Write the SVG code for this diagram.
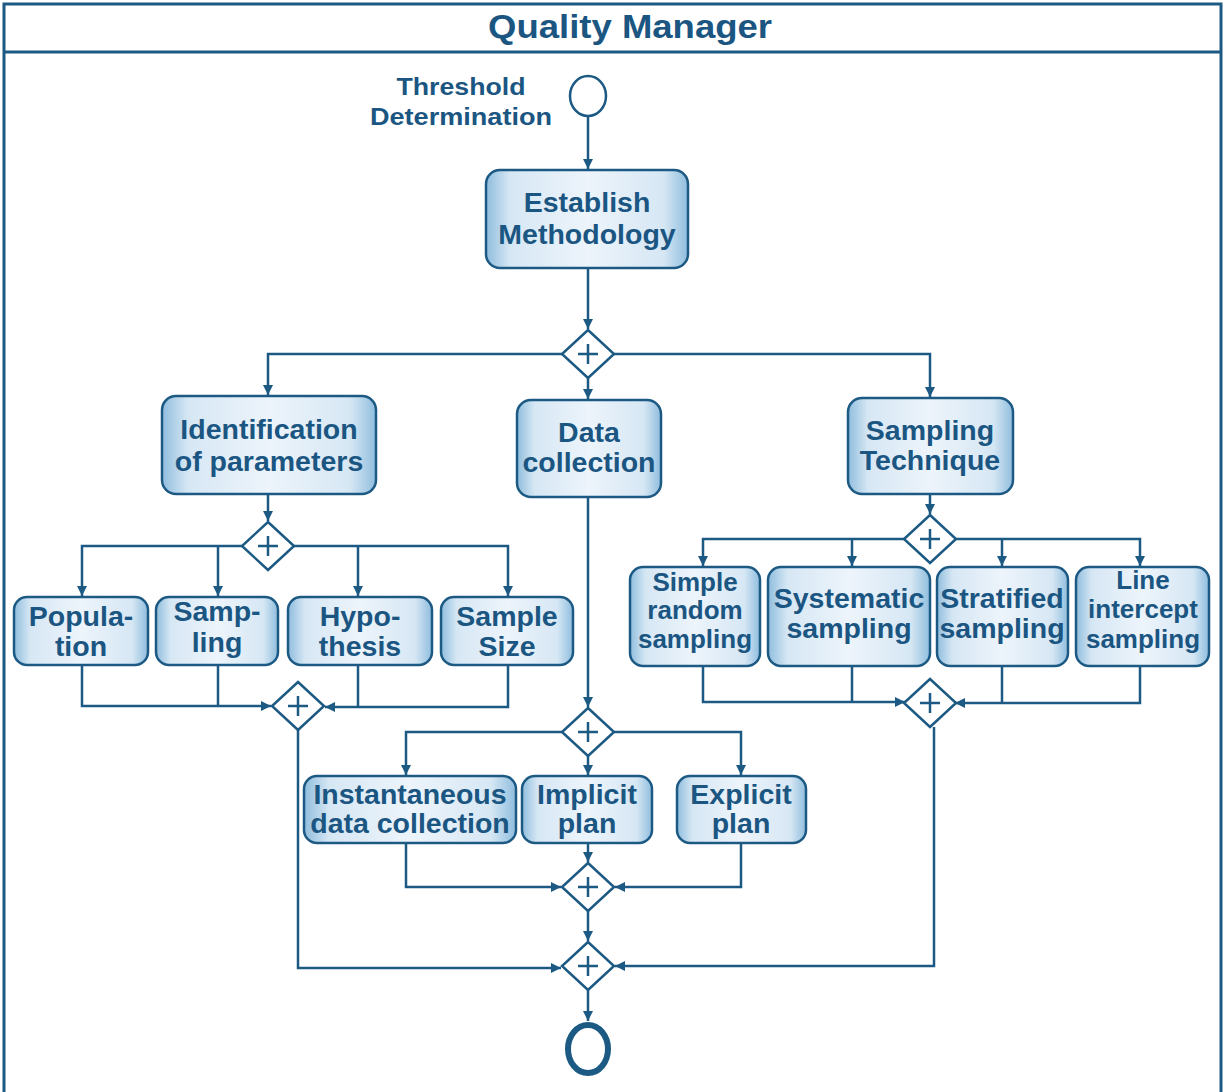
<svg xmlns="http://www.w3.org/2000/svg" width="1225" height="1092" viewBox="0 0 1225 1092">
<defs>
<linearGradient id="g" x1="0" y1="0" x2="1" y2="0">
<stop offset="0" stop-color="#8fbddd"/>
<stop offset="0.12" stop-color="#d6e7f4"/>
<stop offset="0.5" stop-color="#edf4fb"/>
<stop offset="0.88" stop-color="#d6e7f4"/>
<stop offset="1" stop-color="#8fbddd"/>
</linearGradient>
<marker id="a" viewBox="0 0 10 10" refX="10" refY="5" markerWidth="10" markerHeight="10" markerUnits="userSpaceOnUse" orient="auto">
<path d="M0,0 L10,5 L0,10 z" fill="#1c5a84"/>
</marker>
</defs>
<style>
.box{fill:url(#g);stroke:#1c5a84;stroke-width:2.5}
.t{font-family:"Liberation Sans",Arial,sans-serif;font-weight:bold;font-size:28.5px;fill:#1b5682;text-anchor:middle}
.s{font-size:26px}
.c{fill:none;stroke:#1c5a84;stroke-width:2.5}
.gw{fill:#fff;stroke:#1c5a84;stroke-width:2.5}
.p{stroke:#1c5a84;stroke-width:2.5}
</style>
<rect x="0" y="0" width="1225" height="1092" fill="#fff"/>
<g id="frame">
<rect x="4" y="4" width="1217" height="1092" fill="none" stroke="#1c5a84" stroke-width="3"/>
<line x1="4" y1="52" x2="1221" y2="52" stroke="#1c5a84" stroke-width="3"/>
<text x="630" y="38" class="t" style="font-size:33px" textLength="284" lengthAdjust="spacingAndGlyphs">Quality Manager</text>
</g>
<g id="connectors" class="c">
<line x1="588" y1="116" x2="588" y2="169" marker-end="url(#a)"/>
<line x1="588" y1="268" x2="588" y2="329" marker-end="url(#a)"/>
<path d="M562,354 H268 V395" marker-end="url(#a)"/>
<line x1="588" y1="378" x2="588" y2="399" marker-end="url(#a)"/>
<path d="M614,354 H930 V397" marker-end="url(#a)"/>
<line x1="268" y1="494" x2="268" y2="521" marker-end="url(#a)"/>
<path d="M242,546 H82 V596" marker-end="url(#a)"/>
<line x1="218" y1="546" x2="218" y2="596" marker-end="url(#a)"/>
<path d="M294,546 H508 V596" marker-end="url(#a)"/>
<line x1="358" y1="546" x2="358" y2="596" marker-end="url(#a)"/>
<path d="M82,665 V706 H271" marker-end="url(#a)"/>
<line x1="218" y1="665" x2="218" y2="706"/>
<path d="M508,665 V707 H325" marker-end="url(#a)"/>
<line x1="358" y1="665" x2="358" y2="707"/>
<path d="M298,730 V968 H561" marker-end="url(#a)"/>
<line x1="588" y1="497" x2="588" y2="707" marker-end="url(#a)"/>
<path d="M562,732 H406 V775" marker-end="url(#a)"/>
<line x1="588" y1="756" x2="588" y2="775" marker-end="url(#a)"/>
<path d="M614,732 H741 V775" marker-end="url(#a)"/>
<path d="M406,843 V887 H561" marker-end="url(#a)"/>
<line x1="588" y1="843" x2="588" y2="862" marker-end="url(#a)"/>
<path d="M741,843 V887 H615" marker-end="url(#a)"/>
<line x1="588" y1="911" x2="588" y2="941" marker-end="url(#a)"/>
<line x1="588" y1="990" x2="588" y2="1021" marker-end="url(#a)"/>
<line x1="930" y1="494" x2="930" y2="514" marker-end="url(#a)"/>
<path d="M904,539 H703 V566" marker-end="url(#a)"/>
<line x1="852" y1="539" x2="852" y2="566" marker-end="url(#a)"/>
<path d="M956,539 H1140 V566" marker-end="url(#a)"/>
<line x1="1002" y1="539" x2="1002" y2="566" marker-end="url(#a)"/>
<path d="M703,666 V702 H905" marker-end="url(#a)"/>
<line x1="852" y1="666" x2="852" y2="702"/>
<path d="M1140,666 V703 H955" marker-end="url(#a)"/>
<line x1="1002" y1="666" x2="1002" y2="703"/>
<path d="M934,727 V966 H615" marker-end="url(#a)"/>
</g>
<g id="start">
<ellipse cx="588" cy="96" rx="18" ry="20" class="gw"/>
<text class="t" x="461" y="95" style="font-size:23px" textLength="129" lengthAdjust="spacingAndGlyphs">Threshold</text>
<text class="t" x="461" y="125" style="font-size:23px" textLength="182" lengthAdjust="spacingAndGlyphs">Determination</text>
</g>
<g id="establish">
<rect x="486" y="170" width="202" height="98" rx="14" class="box"/>
<text class="t" x="587" y="212">Establish</text>
<text class="t" x="587" y="244">Methodology</text>
</g>
<g id="gw1"><path d="M588,330 L614,354 L588,378 L562,354 Z" class="gw"/><path d="M588,344 V364 M578,354 H598" class="p"/></g>
<g id="identification">
<rect x="162" y="396" width="214" height="98" rx="14" class="box"/>
<text class="t" x="269" y="439">Identification</text>
<text class="t" x="269" y="471">of parameters</text>
</g>
<g id="datacollection">
<rect x="517" y="400" width="144" height="97" rx="14" class="box"/>
<text class="t" x="589" y="442">Data</text>
<text class="t" x="589" y="472">collection</text>
</g>
<g id="samplingtechnique">
<rect x="848" y="398" width="165" height="96" rx="14" class="box"/>
<text class="t" x="930" y="440">Sampling</text>
<text class="t" x="930" y="470">Technique</text>
</g>
<g id="gw2"><path d="M268,522 L294,546 L268,570 L242,546 Z" class="gw"/><path d="M268,536 V556 M258,546 H278" class="p"/></g>
<g id="population">
<rect x="14" y="597" width="134" height="68" rx="13" class="box"/>
<text class="t" x="81" y="626">Popula-</text>
<text class="t" x="81" y="656">tion</text>
</g>
<g id="sampling">
<rect x="156" y="597" width="122" height="68" rx="13" class="box"/>
<text class="t" x="217" y="621">Samp-</text>
<text class="t" x="217" y="652">ling</text>
</g>
<g id="hypothesis">
<rect x="288" y="597" width="144" height="68" rx="13" class="box"/>
<text class="t" x="360" y="626">Hypo-</text>
<text class="t" x="360" y="656">thesis</text>
</g>
<g id="samplesize">
<rect x="441" y="597" width="132" height="68" rx="13" class="box"/>
<text class="t" x="507" y="626">Sample</text>
<text class="t" x="507" y="656">Size</text>
</g>
<g id="gw3"><path d="M298,682 L324,706 L298,730 L272,706 Z" class="gw"/><path d="M298,696 V716 M288,706 H308" class="p"/></g>
<g id="gw4"><path d="M588,708 L614,732 L588,756 L562,732 Z" class="gw"/><path d="M588,722 V742 M578,732 H598" class="p"/></g>
<g id="instantaneous">
<rect x="304" y="776" width="212" height="67" rx="13" class="box"/>
<text class="t" x="410" y="804">Instantaneous</text>
<text class="t" x="410" y="833">data collection</text>
</g>
<g id="implicit">
<rect x="522" y="776" width="130" height="67" rx="13" class="box"/>
<text class="t" x="587" y="804">Implicit</text>
<text class="t" x="587" y="833">plan</text>
</g>
<g id="explicit">
<rect x="677" y="776" width="129" height="67" rx="13" class="box"/>
<text class="t" x="741" y="804">Explicit</text>
<text class="t" x="741" y="833">plan</text>
</g>
<g id="gw5"><path d="M588,863 L614,887 L588,911 L562,887 Z" class="gw"/><path d="M588,877 V897 M578,887 H598" class="p"/></g>
<g id="gw6"><path d="M588,942 L614,966 L588,990 L562,966 Z" class="gw"/><path d="M588,956 V976 M578,966 H598" class="p"/></g>
<g id="end"><ellipse cx="588" cy="1049" rx="20" ry="24" fill="#fff" stroke="#1c5a84" stroke-width="6"/></g>
<g id="gw7"><path d="M930,515 L956,539 L930,563 L904,539 Z" class="gw"/><path d="M930,529 V549 M920,539 H940" class="p"/></g>
<g id="simplerandom">
<rect x="630" y="567" width="130" height="99" rx="13" class="box"/>
<text class="t s" x="695" y="591">Simple</text>
<text class="t s" x="695" y="619">random</text>
<text class="t s" x="695" y="648">sampling</text>
</g>
<g id="systematic">
<rect x="768" y="567" width="162" height="99" rx="13" class="box"/>
<text class="t" x="849" y="608">Systematic</text>
<text class="t" x="849" y="638">sampling</text>
</g>
<g id="stratified">
<rect x="937" y="567" width="131" height="99" rx="13" class="box"/>
<text class="t" x="1002" y="608">Stratified</text>
<text class="t" x="1002" y="638">sampling</text>
</g>
<g id="lineintercept">
<rect x="1076" y="567" width="133" height="99" rx="13" class="box"/>
<text class="t s" x="1143" y="589">Line</text>
<text class="t s" x="1143" y="618">intercept</text>
<text class="t s" x="1143" y="648">sampling</text>
</g>
<g id="gw8"><path d="M930,679 L956,703 L930,727 L904,703 Z" class="gw"/><path d="M930,693 V713 M920,703 H940" class="p"/></g>
</svg>
